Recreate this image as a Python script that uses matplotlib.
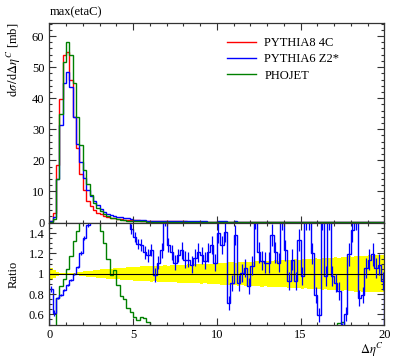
import numpy as np
import matplotlib
matplotlib.use("Agg")
from matplotlib import pyplot as plt
from matplotlib.ticker import MultipleLocator, FixedLocator, FixedFormatter

plt.rcParams['font.family'] = 'serif'
plt.rcParams['font.serif'] = ['Liberation Serif', 'DejaVu Serif']
plt.rcParams['mathtext.fontset'] = 'stix'
plt.rcParams['font.size'] = 9

# bin edges: 100 bins of width 0.2 from 0 to 20
edges = np.linspace(0, 20, 101)

# main panel, dsigma/dDeta [mb]
pythia8 = [0.6, 3.0, 18.4, 39.7, 54.0, 55.0, 46.0, 34.0, 24.0, 15.5,
           10.5, 7.0, 5.2, 4.0, 3.2, 2.6, 2.1, 1.75, 1.5, 1.3,
           1.15, 1.02, 0.92, 0.84, 0.77, 0.71, 0.66, 0.61, 0.56, 0.52,
           0.47, 0.45, 0.43, 0.41, 0.40, 0.38, 0.37, 0.36, 0.35, 0.34,
           0.33, 0.32, 0.31, 0.30, 0.30, 0.29, 0.28, 0.28, 0.27, 0.27,
           0.26, 0.26, 0.25, 0.25, 0.24, 0.24, 0.23, 0.23, 0.22, 0.22,
           0.21, 0.21, 0.21, 0.20, 0.20, 0.20, 0.19, 0.19, 0.19, 0.18,
           0.18, 0.18, 0.17, 0.17, 0.17, 0.17, 0.16, 0.16, 0.16, 0.16,
           0.15, 0.15, 0.15, 0.15, 0.14, 0.14, 0.14, 0.14, 0.14, 0.13,
           0.13, 0.13, 0.13, 0.13, 0.12, 0.12, 0.12, 0.12, 0.12, 0.12]
pythia6 = [0.5, 1.8, 14.0, 31.5, 45.0, 48.5, 43.5, 34.0, 25.4, 19.5,
           14.2, 10.4, 8.5, 7.0, 5.5, 4.3, 3.4, 2.8, 2.4, 2.1,
           1.85, 1.62, 1.45, 1.3, 1.07, 0.9, 0.84, 0.77, 0.67, 0.63,
           0.54, 0.50, 0.43, 0.46, 0.44, 0.57, 0.47, 0.42, 0.35, 0.39,
           0.42, 0.37, 0.34, 0.34, 0.35, 0.33, 0.34, 0.31, 0.32, 0.30,
           0.36, 0.33, 0.35, 0.18, 0.22, 0.33, 0.21, 0.23, 0.23, 0.19,
           0.23, 0.32, 0.25, 0.23, 0.22, 0.22, 0.26, 0.23, 0.21, 0.27,
           0.22, 0.17, 0.19, 0.16, 0.23, 0.16, 0.24, 0.25, 0.13, 0.11,
           0.10, 0.24, 0.15, 0.24, 0.14, 0.13, 0.12, 0.07, 0.10, 0.17,
           0.19, 0.19, 0.09, 0.10, 0.13, 0.14, 0.13, 0.13, 0.13, 0.11]
phojet = [0.3, 1.0, 14.0, 35.0, 51.5, 58.0, 54.0, 45.0, 34.0, 24.8,
          17.0, 12.5, 8.7, 6.2, 4.8, 3.7, 2.7, 2.0, 1.5, 1.35,
          1.02, 0.80, 0.69, 0.55, 0.49, 0.40, 0.36, 0.35, 0.33, 0.28,
          0.21, 0.20, 0.18, 0.17, 0.16, 0.15, 0.14, 0.13, 0.12, 0.12,
          0.11, 0.10, 0.10, 0.09, 0.09, 0.08, 0.08, 0.08, 0.07, 0.07,
          0.07, 0.06, 0.06, 0.06, 0.06, 0.05, 0.05, 0.05, 0.05, 0.05,
          0.05, 0.05, 0.05, 0.05, 0.05, 0.05, 0.05, 0.05, 0.05, 0.05,
          0.05, 0.05, 0.05, 0.05, 0.05, 0.05, 0.05, 0.05, 0.05, 0.05,
          0.05, 0.05, 0.05, 0.05, 0.05, 0.05, 0.07, 0.07, 0.06, 0.05,
          0.05, 0.05, 0.05, 0.05, 0.05, 0.05, 0.05, 0.05, 0.05, 0.05]

# ratio panel (w.r.t. PYTHIA8 4C)
ratio_pythia6 = [0.85, 0.61, 0.76, 0.79, 0.84, 0.89, 0.94, 1.00, 1.07, 1.20,
                 1.35, 1.48, 1.60, 1.75, 1.70, 1.65, 1.62, 1.60, 1.60, 1.62,
                 1.60, 1.60, 1.58, 1.55, 1.44, 1.36, 1.29, 1.28, 1.21, 1.18,
                 1.23, 0.99, 1.11, 1.23, 1.55, 1.28, 1.21, 1.11, 1.18, 1.23,
                 1.14, 1.14, 1.09, 1.16, 1.21, 1.18, 1.13, 1.21, 1.28, 1.11,
                 1.40, 1.28, 1.41, 0.71, 0.91, 1.38, 0.91, 1.01, 1.06, 0.88,
                 1.08, 1.55, 1.21, 1.13, 1.11, 1.11, 1.38, 1.21, 1.11, 1.55,
                 1.23, 0.93, 1.14, 0.93, 1.33, 0.98, 1.55, 1.55, 1.20, 0.79,
                 0.59, 1.55, 0.98, 1.55, 0.98, 0.91, 0.83, 0.45, 0.60, 1.19,
                 1.43, 1.55, 0.76, 0.79, 1.06, 1.14, 1.19, 1.06, 1.09, 0.93]
err_pythia6 = [0.03, 0.03, 0.01, 0.01, 0.01, 0.01, 0.01, 0.01, 0.01, 0.02,
               0.02, 0.02, 0.03, 0.03, 0.03, 0.03, 0.04, 0.04, 0.04, 0.04,
               0.05, 0.05, 0.05, 0.05, 0.05, 0.05, 0.05, 0.06, 0.06, 0.06,
               0.06, 0.07, 0.06, 0.07, 0.08, 0.07, 0.07, 0.07, 0.06, 0.08,
               0.08, 0.07, 0.08, 0.08, 0.09, 0.08, 0.08, 0.09, 0.09, 0.08,
               0.10, 0.09, 0.10, 0.07, 0.08, 0.10, 0.08, 0.09, 0.09, 0.08,
               0.09, 0.11, 0.10, 0.09, 0.10, 0.10, 0.11, 0.10, 0.09, 0.12,
               0.10, 0.09, 0.10, 0.09, 0.11, 0.09, 0.12, 0.12, 0.10, 0.08,
               0.07, 0.12, 0.10, 0.12, 0.10, 0.09, 0.09, 0.06, 0.07, 0.11,
               0.12, 0.12, 0.08, 0.08, 0.10, 0.10, 0.11, 0.10, 0.10, 0.09]
ratio_phojet = [0.30, 0.40, 0.76, 0.88, 0.95, 1.05, 1.17, 1.32, 1.42, 1.60,
                1.65, 1.70, 1.70, 1.60, 1.55, 1.42, 1.30, 1.15, 0.99, 1.04,
                0.89, 0.78, 0.75, 0.66, 0.62, 0.57, 0.54, 0.57, 0.56, 0.52,
                0.45, 0.44, 0.42, 0.41, 0.40, 0.39, 0.38, 0.37, 0.36, 0.35,
                0.34, 0.33, 0.32, 0.32, 0.31, 0.30, 0.30, 0.29, 0.28, 0.28,
                0.28, 0.27, 0.27, 0.26, 0.26, 0.25, 0.25, 0.25, 0.24, 0.24,
                0.24, 0.24, 0.23, 0.23, 0.23, 0.23, 0.22, 0.22, 0.22, 0.22,
                0.22, 0.22, 0.22, 0.22, 0.22, 0.22, 0.22, 0.22, 0.22, 0.22,
                0.22, 0.22, 0.22, 0.22, 0.22, 0.22, 0.51, 0.52, 0.40, 0.30,
                0.30, 0.30, 0.30, 0.30, 0.30, 0.30, 0.30, 0.30, 0.30, 0.30]
# half width of the yellow reference band
band = [0.06, 0.04, 0.02, 0.012, 0.01, 0.01, 0.01, 0.012, 0.015, 0.02,
        0.025, 0.028, 0.032, 0.035, 0.038, 0.042, 0.045, 0.048, 0.05, 0.053,
        0.055, 0.058, 0.06, 0.063, 0.066, 0.07, 0.07, 0.072, 0.075, 0.075,
        0.078, 0.076, 0.08, 0.078, 0.083, 0.08, 0.085, 0.083, 0.088, 0.09,
        0.088, 0.092, 0.09, 0.095, 0.093, 0.098, 0.096, 0.1, 0.098, 0.104,
        0.105, 0.11, 0.107, 0.112, 0.115, 0.11, 0.117, 0.115, 0.12, 0.118,
        0.12, 0.125, 0.122, 0.128, 0.125, 0.13, 0.128, 0.133, 0.13, 0.135,
        0.135, 0.14, 0.138, 0.145, 0.14, 0.148, 0.145, 0.15, 0.148, 0.155,
        0.15, 0.158, 0.155, 0.16, 0.158, 0.165, 0.16, 0.168, 0.165, 0.17,
        0.168, 0.175, 0.17, 0.178, 0.175, 0.18, 0.178, 0.18, 0.18, 0.18]

labels = ["PYTHIA8 4C", "PYTHIA6 Z2*", "PHOJET"]
colors = ["#ff0000", "#0000ff", "#008000"]

W, H = 397, 358
fig = plt.figure(figsize=(W / 100, H / 100), dpi=100)
x0, x1 = 49.3, 384.3
ax1 = fig.add_axes([x0 / W, 1 - 222.5 / H, (x1 - x0) / W, (222.5 - 23) / H])
ax2 = fig.add_axes([x0 / W, 1 - 324.5 / H, (x1 - x0) / W, (324.5 - 223) / H])

for vals, c, lab in zip([pythia8, pythia6, phojet], colors, labels):
    ax1.stairs(vals, edges, color=c, lw=1.0, label=lab)

ax1.set_xlim(0, 20)
ax1.set_ylim(0, 64.2)

centers = (edges[:-1] + edges[1:]) / 2
lo = np.array([1 - b for b in band])
hi = np.array([1 + b for b in band])
ax2.stairs(hi, edges, baseline=lo, fill=True, color="#ffff00", lw=0)
ax2.axhline(1, color="black", lw=0.8)
ax2.stairs(ratio_phojet, edges, color=colors[2], lw=1.0)
ax2.stairs(ratio_pythia6, edges, color=colors[1], lw=1.0)
ax2.errorbar(centers, ratio_pythia6, yerr=err_pythia6, fmt="none",
             ecolor=colors[1], elinewidth=0.9, capsize=0)
ax2.set_xlim(0, 20)
ax2.set_ylim(0.5, 1.5)

for ax in (ax1, ax2):
    for s in ax.spines.values():
        s.set_linewidth(0.9)
        s.set_color("#333333")
    ax.tick_params(which="both", direction="in", top=True, right=True,
                   color="#333333", width=0.8, labelsize=9)
    ax.tick_params(which="major", length=5)
    ax.tick_params(which="minor", length=2.5)
    ax.xaxis.set_major_locator(MultipleLocator(5))
    ax.xaxis.set_minor_locator(MultipleLocator(1))

ax1.yaxis.set_major_locator(MultipleLocator(10))
ax1.yaxis.set_minor_locator(MultipleLocator(2))
ax1.tick_params(labelbottom=False)

ax2.yaxis.set_major_locator(FixedLocator([0.6, 0.8, 1.0, 1.2, 1.4]))
ax2.yaxis.set_major_formatter(FixedFormatter(["0.6", "0.8", "1", "1.2", "1.4"]))
ax2.yaxis.set_minor_locator(MultipleLocator(0.05))
ax2.set_xticks([0, 5, 10, 15, 20])
ax2.set_xticklabels(["0", "5", "10", "15", "20"])

ax1.legend(loc="upper left", bbox_to_anchor=(0.53, 0.93), frameon=False,
           handlelength=2.3, handletextpad=0.7, labelspacing=0.35,
           borderpad=0, borderaxespad=0, fontsize=9)

fig.text(x0 / W, 1 - 12 / H, "max(etaC)", ha="left", va="center", fontsize=9)
fig.text(14 / W, 1 - 23 / H, r"$\mathrm{d}\sigma\,/\mathrm{d}\Delta\eta^C$ [mb]",
         rotation=90, ha="center", va="top", fontsize=9)
fig.text(14 / W, 1 - 274 / H, "Ratio", rotation=90, ha="center", va="center", fontsize=9)
fig.text(x1 / W, 1 - 350 / H, r"$\Delta\eta^C$", ha="right", va="center", fontsize=9)

fig.savefig("out.png", dpi=100)
